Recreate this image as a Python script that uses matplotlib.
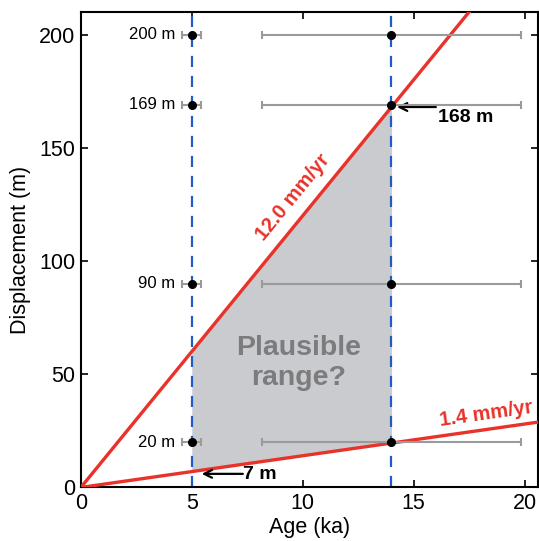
import numpy as np
import matplotlib.pyplot as plt

plt.rcParams['font.family'] = ['Liberation Sans', 'DejaVu Sans']

# terrace ages (ka) and displacements (m)
young_age = 5.0
young_err = 0.43
old_age = 14.0
old_err = 5.85
offsets = [20, 90, 169, 200]
offset_labels = ['20 m', '90 m', '169 m', '200 m']

# slip rates (mm/yr == m/ka)
fast_rate = 12.0
slow_rate = 1.4
rate_labels = ['12.0 mm/yr', '1.4 mm/yr']

xmax = 20.6
ymax = 210

red = '#e8322a'
blue = '#1f5cc4'

fig = plt.figure(figsize=(5.39, 5.41), dpi=100)
ax = fig.add_axes([0.150, 0.099, 0.848, 0.879])
ax.set_xlim(0, xmax)
ax.set_ylim(0, ymax)

# shaded plausible range between the two vertical lines
xs = np.array([young_age, old_age])
ax.fill_between(xs, slow_rate * xs, fast_rate * xs, color='#cacbce', lw=0, zorder=1)

# slip-rate lines
xl = np.array([0, xmax])
ax.plot(xl, fast_rate * xl, color=red, lw=2.4, zorder=3)
ax.plot(xl, slow_rate * xl, color=red, lw=2.4, zorder=3)

# dashed age lines
for a in [young_age, old_age]:
    ax.axvline(a, color=blue, lw=1.6, ls=(0, (5, 4)), zorder=2)

# error bars and points
for d, lab in zip(offsets, offset_labels):
    ax.errorbar(young_age, d, xerr=young_err, fmt='none', ecolor='#9a9a9a',
                elinewidth=1.5, capsize=3, capthick=1.5, zorder=4)
    ax.errorbar(old_age, d, xerr=old_err, fmt='none', ecolor='#9a9a9a',
                elinewidth=1.5, capsize=3, capthick=1.5, zorder=4)
    ax.plot([young_age, old_age], [d, d], 'o', color='black', ms=5.5, zorder=5)
    ax.text(young_age - 0.75, d, lab, ha='right', va='center', fontsize=12)

# annotations of the bounding offsets
arrow = dict(arrowstyle='->', color='black', lw=1.6, shrinkA=0, shrinkB=0,
             mutation_scale=14)
ax.annotate('', xy=(old_age + 0.25, 168), xytext=(16.0, 168), arrowprops=arrow)
ax.text(16.1, 163.5, '168 m', fontsize=14, fontweight='bold', ha='left', va='center')
ax.annotate('', xy=(young_age + 0.45, 6.0), xytext=(7.3, 6.0), arrowprops=arrow)
ax.text(7.3, 5.6, '7 m', fontsize=14, fontweight='bold', ha='left', va='center')

# rate labels rotated along lines
fig.canvas.draw()


def screen_angle(rate):
    p0 = ax.transData.transform((0, 0))
    p1 = ax.transData.transform((10, 10 * rate))
    return np.degrees(np.arctan2(p1[1] - p0[1], p1[0] - p0[0]))


ax.text(9.55, 128, rate_labels[0], color=red, fontsize=14.5, fontweight='bold',
        rotation=screen_angle(fast_rate), rotation_mode='anchor',
        ha='center', va='center')
ax.text(18.25, 32.3, rate_labels[1], color=red, fontsize=14.5, fontweight='bold',
        rotation=screen_angle(slow_rate), rotation_mode='anchor',
        ha='center', va='center')

ax.text(9.8, 55, 'Plausible\nrange?', color='#7c7c7e', fontsize=20.5,
        fontweight='bold', ha='center', va='center', linespacing=1.2, zorder=2)

ax.set_xticks([0, 5, 10, 15, 20])
ax.set_yticks([0, 50, 100, 150, 200])
ax.tick_params(direction='in', top=True, right=True, length=5, width=1.2,
               labelsize=15.5, pad=4)
for s in ax.spines.values():
    s.set_linewidth(1.5)
ax.set_xlabel('Age (ka)', fontsize=15.5, labelpad=2)
ax.set_ylabel('Displacement (m)', fontsize=15.5, labelpad=6)

fig.savefig('out.png', dpi=100)
